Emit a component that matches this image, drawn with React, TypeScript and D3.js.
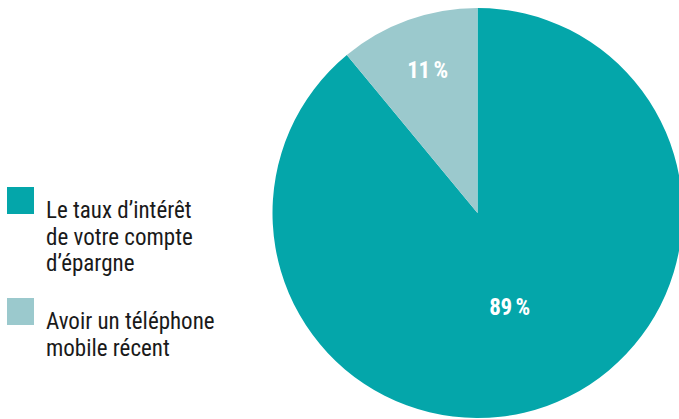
import React from "react";
import * as d3 from "d3";

const categories = ["Le taux d’intérêt de votre compte d’épargne", "Avoir un téléphone mobile récent"];
const values = [89, 11];
const labels = ["89\u2009%", "11\u2009%"];
const legendLines = [["Le taux d’intérêt", "de votre compte", "d’épargne"], ["Avoir un téléphone", "mobile récent"]];
const colors = ["#04a6aa", "#9bc9cd"];

export default function App() {
  const W = 679, H = 419;
  const cx = 477.5, cy = 213, r = 205;
  const pie = d3.pie<number>().sort(null).startAngle(0).endAngle(2 * Math.PI).value((d) => d);
  const arcs = pie(values);
  const arcGen = d3.arc<d3.PieArcDatum<number>>().innerRadius(0).outerRadius(r);
  const labelPos = [
    [32, 94],
    [-50, -143],
  ];
  const font = "'Roboto Condensed', 'DejaVu Sans Condensed', sans-serif";
  const legendY = [187, 298];
  return (
    <svg width={W} height={H} style={{ position: "absolute", left: 0, top: 0 }}>
      <rect width={W} height={H} fill="#fff" />
      <g transform={`translate(${cx},${cy})`}>
        {arcs.map((a, i) => (
          <path key={i} d={arcGen(a) || ""} fill={colors[i]} />
        ))}
        {arcs.map((a, i) => (
          <text key={"t" + i} x={labelPos[i][0]} y={labelPos[i][1]} textAnchor="middle" dominantBaseline="central"
            fill="#fff" fontFamily={font} fontWeight="bold" fontSize={23} letterSpacing={-0.5}>
            {labels[i]}
          </text>
        ))}
      </g>
      {categories.map((c, i) => (
        <g key={c}>
          <rect x={7} y={legendY[i]} width={27} height={27} fill={colors[i]} />
          {legendLines[i].map((line, j) => (
            <text key={j} x={46} y={legendY[i] + 31 + j * 26.5} fontFamily={font} fontSize={23} fill="#1a1a1a">
              {line}
            </text>
          ))}
        </g>
      ))}
    </svg>
  );
}
